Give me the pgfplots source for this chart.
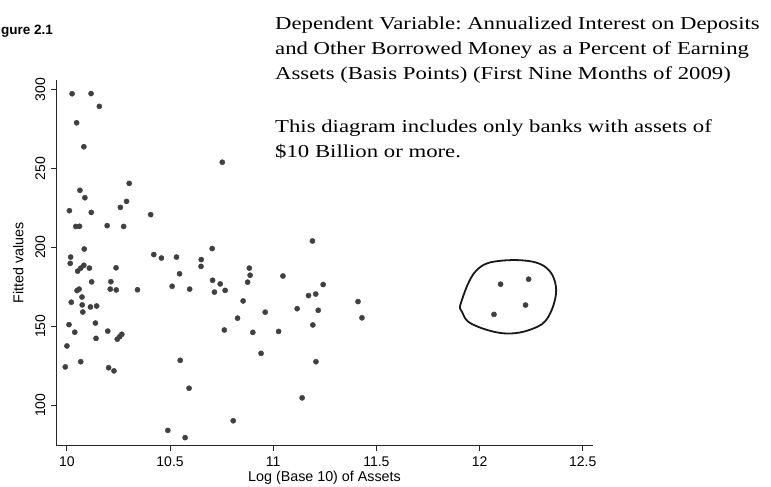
\documentclass[border=0pt]{standalone}
\usepackage{pgfplots}
\pgfplotsset{compat=1.18}
\usepackage{fontspec}
\setmainfont{Liberation Sans}
\newfontfamily\timesfont[FakeStretch=1.25]{Liberation Serif}
\pgfplotstableread{
x y
10.025 297.3
10.117 297.4
10.157 289.3
10.047 278.9
10.082 263.7
10.753 253.9
10.302 240.5
10.063 236.1
10.087 231.4
10.289 229.1
10.259 225.3
10.012 223.2
10.118 222.1
10.406 220.7
10.043 213.2
10.061 213.3
10.195 213.7
10.275 213.2
10.704 199.2
10.084 198.9
10.421 195.4
10.458 193.2
10.531 193.8
10.651 192.2
10.650 187.9
10.018 193.8
10.016 189.8
10.052 184.9
10.067 186.8
10.082 188.6
10.109 186.8
10.238 187.0
10.546 183.2
10.884 186.8
10.888 182.3
10.876 177.9
11.047 181.8
10.120 178.1
10.213 178.2
10.210 173.5
10.239 173.0
10.342 173.1
10.510 175.3
10.595 173.5
10.706 179.1
10.743 176.8
10.715 171.6
10.767 172.7
10.049 172.6
10.059 173.5
10.073 168.5
10.021 165.2
10.074 163.5
10.114 162.2
10.144 162.8
10.077 159.0
10.010 151.0
10.138 152.0
10.038 146.2
10.198 146.9
10.141 142.3
10.244 141.8
10.256 143.4
10.266 144.9
10.000 137.5
10.067 127.5
9.992 124.2
10.202 123.7
10.228 121.7
10.549 128.4
10.592 110.7
10.489 84.0
10.573 79.4
10.806 90.1
10.854 166.0
10.827 155.1
10.763 147.6
10.901 146.1
10.961 158.9
11.026 146.7
10.941 132.8
11.190 204.0
11.242 176.4
11.171 169.4
11.206 170.4
11.116 161.1
11.218 160.1
11.411 165.6
11.430 155.3
11.192 150.8
11.207 127.5
11.140 104.6
12.102 176.6
12.238 179.8
12.223 163.4
12.070 157.5
}\banks
\begin{document}
\frenchspacing
\begin{tikzpicture}
\useasboundingbox (0,0) rectangle (771pt,487pt);
\clip (0,0) rectangle (771pt,487pt);
\node[anchor=base east, inner sep=0pt, font=\bfseries\fontsize{13.5}{16}\selectfont] at (53pt,452.7pt) {Figure 2.1};
\begin{scope}[every node/.style={anchor=base west, inner sep=0pt, font=\timesfont\fontsize{18.2}{22}\selectfont}]
\node at (275pt,457.7pt) {Dependent Variable: Annualized Interest on Deposits};
\node at (275pt,432.7pt) {and Other Borrowed Money as a Percent of Earning};
\node at (275pt,407pt) {Assets (Basis Points) (First Nine Months of 2009)};
\node at (275pt,354pt) {This diagram includes only banks with assets of};
\node at (275pt,329pt) {\$10 Billion or more.};
\end{scope}
\begin{axis}[
  at={(56pt,41pt)}, anchor=south west,
  scale only axis, width=537pt, height=366pt,
  xmin=9.947, xmax=12.55, ymin=74.1, ymax=306,
  axis x line=bottom, axis y line=left,
  axis line style={-, line width=1pt, black!85},
  xtick={10,10.5,11,11.5,12,12.5},
  ytick={100,150,200,250,300},
  tick align=outside, major tick length=5pt,
  tick style={line width=0.9pt, black!85},
  /pgf/number format/assume math mode=true,
  tick label style={font=\fontsize{14}{16}\selectfont, inner sep=1pt},
  xticklabel style={yshift=-5pt},
  yticklabel style={rotate=90, anchor=south, yshift=4.5pt},
  xlabel={Log (Base 10) of Assets},
  ylabel={Fitted values},
  label style={font=\fontsize{14.3}{16}\selectfont, inner sep=1pt},
  xlabel style={at={(axis description cs:0.5,0)}, anchor=center, yshift=-32pt},
  ylabel style={at={(axis description cs:0,0.5)}, anchor=center, yshift=37.7pt},
]
\addplot[only marks, mark=*, mark size=2.6pt, color=black!75] table[x=x, y=y] {\banks};
\draw[line width=1.8pt, black!90] plot[smooth cycle, tension=0.65] coordinates {
 (axis cs:11.911,165.2) (axis cs:11.983,185.1) (axis cs:12.105,191.5)
 (axis cs:12.296,189.3) (axis cs:12.370,175.4) (axis cs:12.336,156.5)
 (axis cs:12.254,148.2) (axis cs:12.116,145.5) (axis cs:11.963,151.4)
 (axis cs:11.916,158.9)};
\end{axis}
\end{tikzpicture}
\end{document}
